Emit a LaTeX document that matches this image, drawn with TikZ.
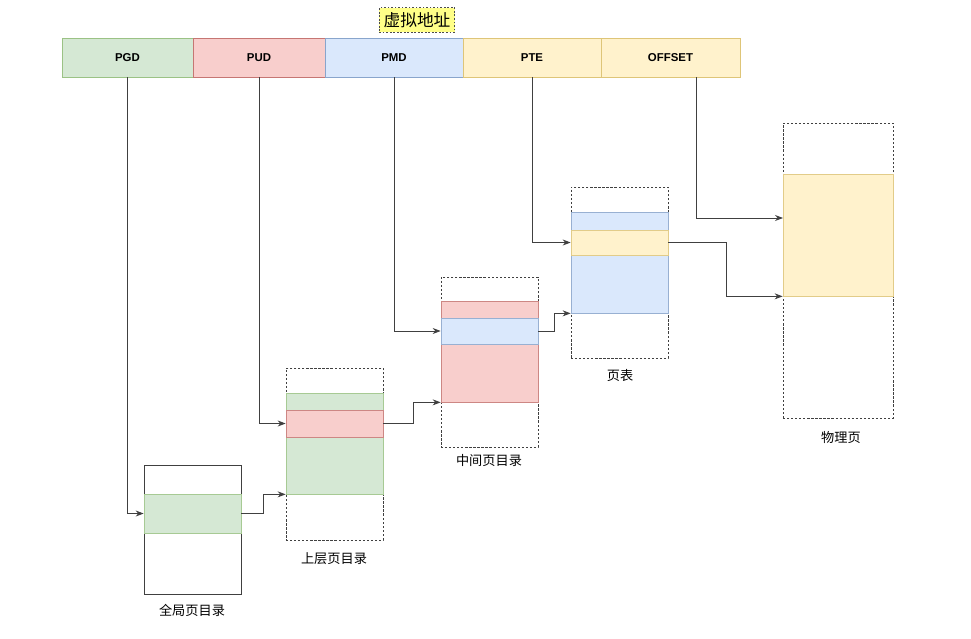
\documentclass[tikz,border=0pt]{standalone}
\usepackage{fontspec}
\setmainfont{Liberation Sans}
\newfontfamily\cjk{Noto Sans CJK SC}
\usetikzlibrary{arrows.meta, calc, fit}

\definecolor{gfill}{HTML}{D5E8D4}\definecolor{gline}{HTML}{82B366}
\definecolor{rfill}{HTML}{F8CECC}\definecolor{rline}{HTML}{B85450}
\definecolor{bfill}{HTML}{DAE8FC}\definecolor{bline}{HTML}{6C8EBF}
\definecolor{yfill}{HTML}{FFF2CC}\definecolor{yline}{HTML}{D6B656}
\definecolor{tfill}{HTML}{FFFF88}

\begin{document}
\begin{tikzpicture}[x=0.02cm, y=-0.02cm, >={Stealth[length=1.6mm]}, line width=0.5pt,
  field/.style={inner sep=0, font=\fontsize{6.5}{7}\selectfont\bfseries},
  table/.style={inner sep=0, draw=black!75, dash pattern=on 1.3pt off 1pt},
  band/.style={inner sep=0, line width=0.4pt},
  conn/.style={->, draw=black!75},
  caption/.style={font=\cjk\fontsize{7.5}{9}\selectfont}]
  \useasboundingbox (0,0) rectangle (971,639);
  % --- virtual address ---
  \node[draw=black!70, dash pattern=on 1pt off 1pt, fill=tfill, inner sep=2.5pt, font=\cjk\fontsize{9.5}{11}\selectfont] (va) at (417,20) {虚拟地址};
  \node[field, fill=gfill, draw=gline!80, fit={(62,38) (193,77)}] (pgd) {};
  \node[field, fill=rfill, draw=rline!80, fit={(193,38) (325,77)}] (pud) {};
  \node[field, fill=bfill, draw=bline!80, fit={(325,38) (463,77)}] (pmd) {};
  \node[field, fill=yfill, draw=yline!80, fit={(463,38) (601,77)}] (pte) {};
  \node[field, fill=yfill, draw=yline!80, fit={(601,38) (740,77)}] (off) {};
  \foreach \n/\t in {pgd/PGD, pud/PUD, pmd/PMD, pte/PTE, off/OFFSET}
    \node[field] at (\n) {\t};

  % --- global page directory ---
  \node[inner sep=0, draw=black!75, fit={(144,465) (241,594)}] (gdir) {};
  \node[band, fill=gfill, draw=gline!70, fit={(144,494) (241,533)}] (gent) {};
  \node[caption] (gcap) at (192,610) {全局页目录};

  % --- upper page directory ---
  \node[table, fit={(286,368) (383,540)}] (udir) {};
  \node[band, fill=gfill, draw=gline!70, fit={(286,393) (383,494)}] (ublk) {};
  \node[band, fill=rfill, draw=rline!70, fit={(286,410) (383,437)}] (uent) {};
  \node[caption] (ucap) at (334,559) {上层页目录};

  % --- middle page directory ---
  \node[table, fit={(441,277) (538,447)}] (mdir) {};
  \node[band, fill=rfill, draw=rline!70, fit={(441,301) (538,402)}] (mblk) {};
  \node[band, fill=bfill, draw=bline!70, fit={(441,318) (538,344)}] (ment) {};
  \node[caption] (mcap) at (489,461) {中间页目录};

  % --- page table ---
  \node[table, fit={(571,187) (668,358)}] (ptab) {};
  \node[band, fill=bfill, draw=bline!70, fit={(571,212) (668,313)}] (pblk) {};
  \node[band, fill=yfill, draw=yline!70, fit={(571,230) (668,255)}] (pent) {};
  \node[caption] (pcap) at (620,376) {页表};

  % --- physical page ---
  \node[table, fit={(783,123) (893,418)}] (phys) {};
  \node[band, fill=yfill, draw=yline!70, fit={(783,174) (893,296)}] (fblk) {};
  \node[caption] (fcap) at (841,438) {物理页};

  % --- connectors ---
  \draw[conn] (pgd.south) |- (gent.west);
  \draw[conn] (pud.south) |- (uent.west);
  \draw[conn] (pmd.south) |- (ment.west);
  \draw[conn] (pte.south) |- (pent.west);
  \coordinate (offin) at (783,218);
  \draw[conn] ($(off.south west)!0.683!(off.south east)$) |- (offin);
  \draw[conn] (gent.east) -- ++(22,0) |- (ublk.south west);
  \draw[conn] (uent.east) -- ++(30,0) |- (mblk.south west);
  \draw[conn] (ment.east) -- ++(16,0) |- (pblk.south west);
  \draw[conn] (pent.east) -- ++(58,0) |- (fblk.south west);
\end{tikzpicture}
\end{document}
